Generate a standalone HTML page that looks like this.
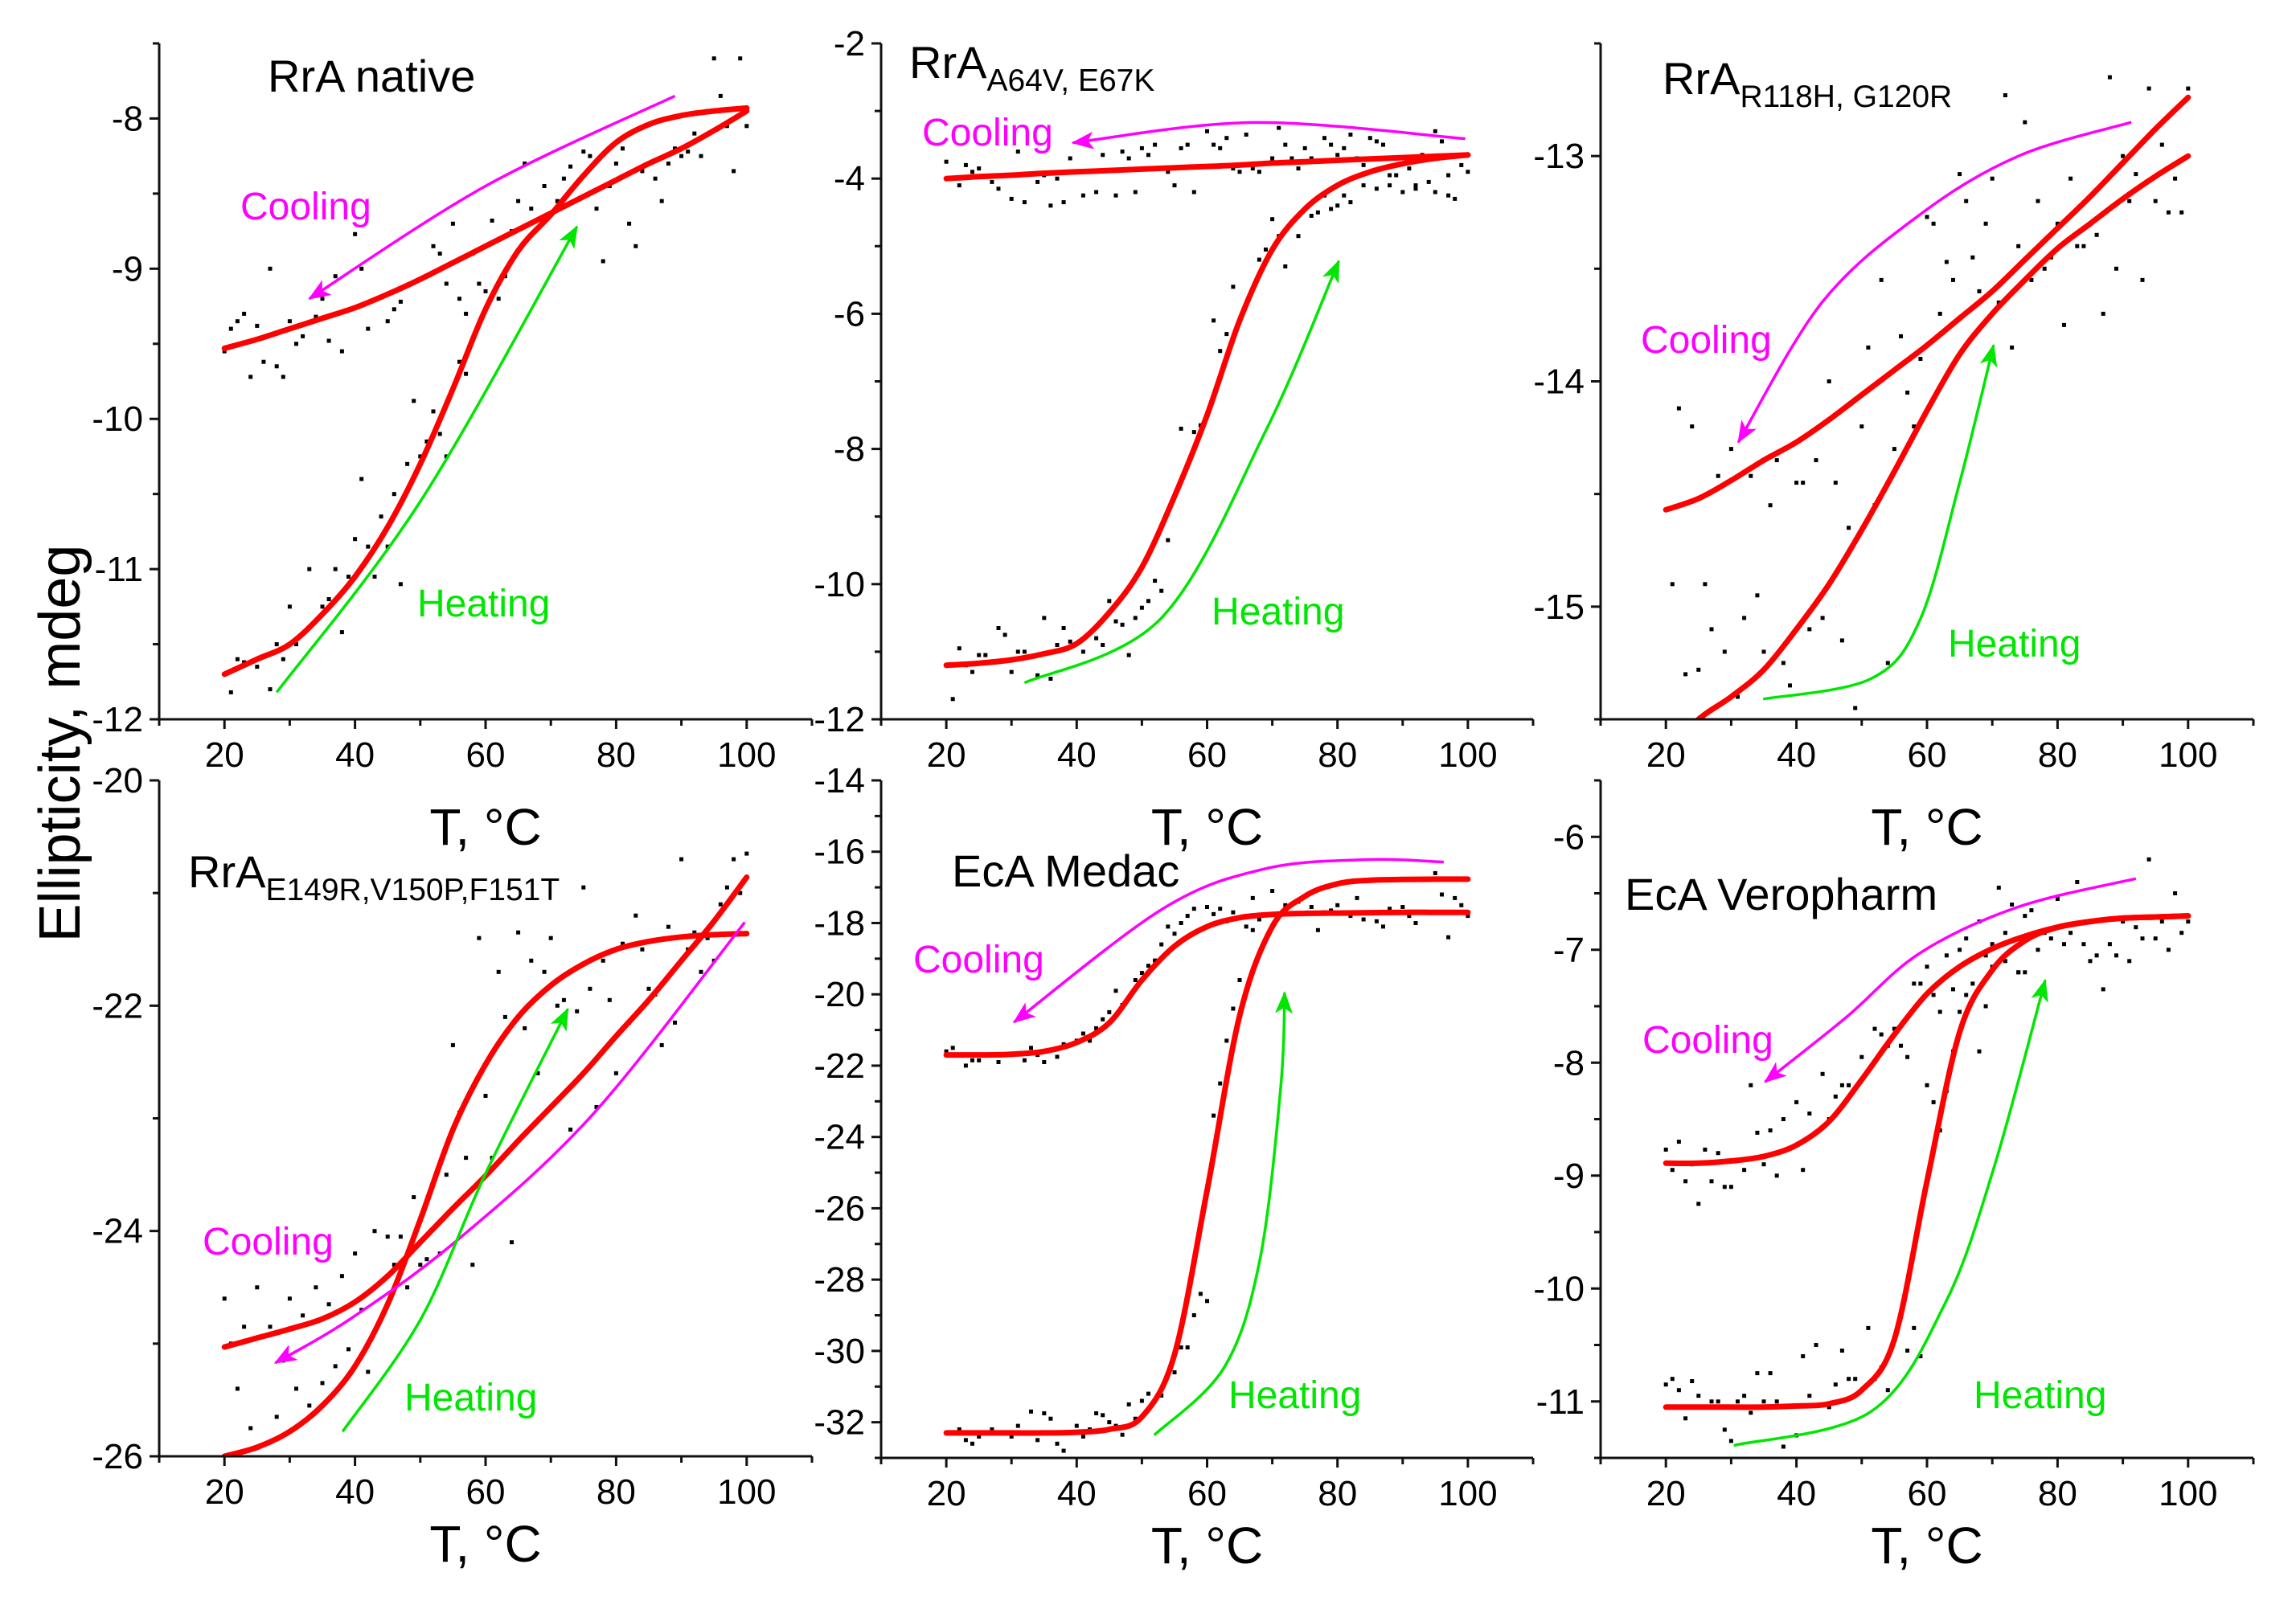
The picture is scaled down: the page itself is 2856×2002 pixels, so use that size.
<!DOCTYPE html>
<html><head><meta charset="utf-8"><style>
html,body{margin:0;padding:0;background:#fff;}
svg{display:block;}
text{font-family:"Liberation Sans",Arial,sans-serif;}
</style></head><body>
<svg id="chart" xmlns="http://www.w3.org/2000/svg" width="2856" height="2002" viewBox="0 0 2856 2002">
<defs>
<marker id="arrM" markerUnits="userSpaceOnUse" markerWidth="30" markerHeight="22" refX="26" refY="11" orient="auto"><path d="M0,0 L28,11 L0,22 L7,11 Z" fill="#ff00ff"/></marker>
<marker id="arrG" markerUnits="userSpaceOnUse" markerWidth="30" markerHeight="22" refX="26" refY="11" orient="auto"><path d="M0,0 L28,11 L0,22 L7,11 Z" fill="#00e600"/></marker>
</defs>
<text transform="translate(99,925) rotate(-90)" text-anchor="middle" font-size="72" fill="#000">Ellipticity, mdeg</text>
</svg>
<script>
// ---------- data ----------
const temps = [20,25,30,35,40,45,50,55,60,65,70,75,80,85,90,95,100];
const xTicks = [20,40,60,80,100];

const heatA = [-11.7,-11.6,-11.5,-11.3,-11.05,-10.72,-10.3,-9.8,-9.27,-8.88,-8.64,-8.38,-8.16,-8.04,-7.98,-7.95,-7.93];
const coolA = [-9.53,-9.47,-9.4,-9.33,-9.26,-9.17,-9.07,-8.96,-8.85,-8.74,-8.63,-8.52,-8.41,-8.3,-8.2,-8.08,-7.95];
const heatB = [-11.2,-11.17,-11.12,-11.03,-10.88,-10.42,-9.75,-8.7,-7.5,-6.1,-5.05,-4.45,-4.1,-3.9,-3.78,-3.7,-3.65];
const coolB = [-4.0,-3.97,-3.95,-3.92,-3.9,-3.88,-3.86,-3.84,-3.82,-3.8,-3.77,-3.75,-3.73,-3.71,-3.69,-3.67,-3.65];
const heatC = [-15.65,-15.5,-15.4,-15.28,-15.1,-14.9,-14.66,-14.4,-14.13,-13.88,-13.7,-13.55,-13.41,-13.3,-13.19,-13.09,-13.0];
const coolC = [-14.57,-14.52,-14.44,-14.35,-14.27,-14.17,-14.06,-13.95,-13.84,-13.72,-13.6,-13.46,-13.32,-13.18,-13.03,-12.88,-12.74];
const heatD = [-26.0,-25.92,-25.78,-25.55,-25.2,-24.65,-23.9,-23.1,-22.52,-22.1,-21.82,-21.63,-21.5,-21.43,-21.39,-21.37,-21.36];
const coolD = [-25.03,-24.95,-24.87,-24.78,-24.63,-24.4,-24.1,-23.8,-23.51,-23.2,-22.9,-22.6,-22.27,-21.95,-21.6,-21.25,-20.86];
const heatE = [-32.3,-32.3,-32.3,-32.3,-32.28,-32.2,-31.85,-30.1,-25.5,-20.6,-18.1,-17.25,-16.9,-16.8,-16.78,-16.77,-16.77];
const coolE = [-21.7,-21.7,-21.68,-21.6,-21.35,-20.8,-19.6,-18.65,-18.1,-17.85,-17.76,-17.73,-17.72,-17.71,-17.7,-17.7,-17.7];
const heatF = [-11.05,-11.05,-11.05,-11.05,-11.04,-11.02,-10.9,-10.45,-9.05,-7.73,-7.18,-6.92,-6.8,-6.75,-6.72,-6.71,-6.7];
const coolF = [-8.89,-8.89,-8.87,-8.83,-8.73,-8.52,-8.15,-7.75,-7.39,-7.15,-6.99,-6.88,-6.8,-6.75,-6.72,-6.71,-6.7];

const coolArrowA = [[89,-7.85],[60,-8.45],[33,-9.2]];
const heatArrowA = [[28,-11.82],[50,-10.55],[74,-8.72]];
const coolArrowB = [[99.6,-3.41],[67.3,-3.17],[39.4,-3.47]];
const heatArrowB = [[32,-11.46],[53,-10.5],[69,-7.73],[80.2,-5.22]];
const coolArrowC = [[91.3,-12.85],[74,-13.0],[58.9,-13.26],[43.9,-13.65],[31.1,-14.27]];
const heatArrowC = [[34.9,-15.41],[51.4,-15.32],[58.9,-15.06],[64.9,-14.46],[70.2,-13.84]];
const coolArrowD = [[99.7,-21.26],[76.5,-22.96],[55.9,-24.07],[39.3,-24.78],[27.8,-25.17]];
const heatArrowD = [[38.1,-25.78],[50.1,-24.78],[60,-23.49],[72.6,-22.03]];
const coolArrowE = [[96.3,-16.29],[84.7,-16.22],[68.9,-16.48],[53.2,-17.6],[30.4,-20.78]];
const heatArrowE = [[51.9,-32.36],[62.6,-30.47],[68.1,-27.44],[71.3,-22.6],[71.9,-19.95]];
const coolArrowF = [[92,-6.37],[74,-6.62],[58.9,-7.03],[47.6,-7.6],[35.2,-8.17]];
const heatArrowF = [[30.4,-11.39],[51.4,-11.09],[62.7,-10.14],[70.2,-8.94],[78.1,-7.27]];

const dotsA = [[20,-9.55],[21,-9.4],[22,-9.35],[23,-9.3],[24,-9.72],[25,-9.38],[26,-9.62],[27,-9.0],[28,-9.65],[29,-9.72],[30,-9.35],[31,-9.5],[32,-9.45],[34,-9.32],[35,-9.2],[36,-9.48],[37,-9.05],[38,-9.55],[40,-8.77],[41,-9.0],[42,-9.4],[45,-9.35],[46,-9.27],[47,-9.22],[52,-8.85],[53,-8.9],[54,-9.1],[55,-8.7],[56,-9.2],[57,-9.3],[58,-8.9],[59,-9.1],[61,-8.68],[62,-9.2],[63,-9.05],[64,-8.75],[65,-8.55],[66,-8.3],[67,-8.6],[69,-8.45],[71,-8.55],[72,-8.4],[73,-8.32],[75,-8.22],[76,-8.25],[77,-8.6],[78,-8.95],[79,-8.45],[80,-8.3],[81,-8.2],[82,-8.7],[83,-8.85],[84,-8.35],[85,-8.3],[86,-8.4],[87,-8.55],[88,-8.3],[89,-8.2],[90,-8.25],[91,-8.22],[92,-8.1],[93,-8.25],[94,-7.95],[95,-7.6],[96,-7.85],[97,-8.05],[98,-8.35],[99,-7.6],[100,-8.05],
[21,-11.82],[22,-11.6],[23,-11.62],[25,-11.65],[27,-11.8],[28,-11.5],[29,-11.6],[30,-11.25],[31,-11.5],[33,-11.0],[35,-11.25],[36,-11.2],[37,-11.0],[38,-11.42],[39,-11.05],[40,-10.8],[41,-10.4],[42,-10.85],[43,-11.05],[44,-10.65],[45,-10.85],[46,-10.5],[47,-11.1],[48,-10.3],[49,-9.88],[50,-10.25],[51,-10.15],[52,-9.95],[53,-10.1],[54,-10.25],[56,-9.62],[57,-9.7],[60,-9.15]];
const dotsB = [[20,-3.75],[22,-4.1],[23,-3.8],[24,-3.9],[25,-3.85],[27,-4.05],[28,-4.15],[30,-4.3],[31,-3.6],[32,-4.35],[34,-4.05],[35,-3.95],[36,-4.4],[37,-4.0],[38,-4.35],[39,-3.7],[41,-4.25],[42,-3.9],[43,-4.2],[44,-3.65],[46,-4.25],[47,-3.6],[48,-3.7],[49,-4.2],[50,-3.55],[51,-3.65],[52,-3.5],[54,-3.9],[55,-4.1],[56,-3.55],[57,-3.5],[58,-4.2],[60,-3.3],[61,-3.5],[62,-3.55],[63,-3.4],[64,-3.85],[65,-3.9],[66,-3.35],[67,-3.85],[68,-3.9],[70,-3.7],[71,-3.25],[72,-3.5],[73,-3.7],[74,-3.85],[75,-3.55],[76,-3.7],[77,-3.75],[78,-3.4],[79,-3.5],[80,-3.65],[81,-3.55],[82,-3.35],[83,-3.7],[84,-3.8],[85,-3.4],[86,-3.45],[87,-3.5],[88,-3.95],[89,-3.95],[90,-3.7],[91,-3.85],[92,-4.1],[93,-3.65],[94,-4.05],[95,-3.3],[96,-3.45],[97,-3.95],[98,-4.3],[99,-3.8],[100,-3.9],
[20,-11.2],[21,-11.7],[22,-10.95],[23,-11.2],[24,-11.3],[25,-11.05],[26,-11.05],[28,-10.65],[29,-10.75],[30,-11.3],[31,-11.0],[32,-11.0],[34,-11.35],[35,-10.5],[36,-11.4],[37,-10.9],[38,-10.65],[39,-10.85],[41,-11.0],[43,-10.8],[44,-10.9],[45,-10.25],[46,-10.55],[47,-10.6],[48,-11.05],[49,-10.5],[50,-10.35],[51,-10.25],[52,-9.95],[53,-10.1],[54,-9.35],[56,-7.7],[58,-7.75],[59,-7.65],[61,-6.1],[62,-6.55],[63,-6.3],[64,-5.6],[68,-5.2],[69,-5.05],[70,-4.6],[71,-4.85],[72,-5.3],[73,-4.65],[74,-4.85],[76,-4.55],[77,-4.5],[78,-4.25],[79,-4.45],[80,-4.4],[81,-4.25],[82,-4.35],[84,-4.1],[86,-4.15],[88,-4.1],[90,-4.2],[92,-4.15],[95,-4.2],[97,-4.25]];
const dotsC = [[20,-14.57],[21,-14.9],[22,-14.12],[23,-15.3],[24,-14.2],[25,-15.28],[26,-14.9],[27,-15.1],[28,-14.42],[29,-15.2],[30,-14.3],[31,-15.4],[32,-15.05],[33,-14.42],[34,-14.95],[35,-15.2],[36,-14.55],[37,-14.35],[38,-15.25],[39,-15.35],[40,-14.45],[41,-14.45],[42,-15.1],[43,-14.35],[44,-15.05],[45,-14.0],[46,-14.45],[47,-15.15],[48,-14.65],[49,-15.45],[50,-14.2],[51,-13.85],[52,-14.55],[53,-13.55],[54,-15.25],[55,-14.3],[56,-13.8],[57,-14.05],[58,-14.2],[59,-13.9],[60,-13.27],[61,-13.3],[62,-13.7],[63,-13.47],[64,-13.55],[65,-13.08],[66,-13.2],[67,-13.45],[68,-13.6],[69,-13.3],[70,-13.1],[71,-13.65],[72,-12.73],[73,-13.85],[74,-13.4],[75,-12.85],[76,-13.55],[77,-13.2],[78,-13.5],[79,-13.45],[80,-13.3],[81,-13.75],[82,-13.1],[83,-13.4],[84,-13.4],[86,-13.35],[87,-13.7],[88,-12.65],[89,-13.5],[90,-13.0],[91,-13.2],[92,-13.08],[93,-13.55],[94,-12.7],[95,-13.2],[96,-12.95],[97,-13.25],[98,-13.1],[99,-13.25],[100,-12.7]];
const dotsD = [[20,-24.6],[21,-25.0],[22,-25.4],[23,-24.85],[24,-25.75],[25,-24.5],[26,-25.9],[27,-24.85],[28,-25.65],[29,-25.15],[30,-24.6],[31,-25.4],[32,-24.75],[33,-25.55],[34,-24.5],[35,-25.35],[36,-24.65],[37,-25.2],[38,-24.4],[39,-25.05],[40,-24.2],[41,-24.7],[42,-25.25],[43,-24.0],[44,-24.45],[45,-24.05],[46,-24.3],[47,-24.05],[48,-24.5],[49,-23.7],[50,-24.3],[51,-24.25],[53,-24.2],[54,-23.5],[55,-22.35],[56,-22.95],[57,-23.35],[58,-24.3],[59,-21.4],[60,-22.8],[61,-23.35],[62,-21.7],[63,-22.1],[64,-24.1],[65,-21.35],[66,-22.2],[67,-21.6],[68,-22.6],[69,-21.7],[70,-21.4],[71,-22.0],[72,-21.95],[73,-23.1],[74,-22.05],[75,-20.95],[76,-21.85],[77,-22.9],[78,-21.6],[79,-21.95],[80,-22.6],[81,-21.45],[82,-22.15],[83,-21.2],[84,-21.5],[85,-21.85],[86,-21.9],[87,-22.35],[88,-21.3],[89,-22.15],[90,-20.7],[91,-21.5],[92,-21.35],[93,-21.7],[94,-21.4],[95,-21.6],[96,-21.1],[97,-20.95],[98,-20.7],[99,-21.0],[100,-20.65]];
const dotsE = [[20,-21.6],[21,-21.5],[22,-21.7],[23,-22.0],[24,-21.85],[25,-21.85],[27,-21.7],[28,-21.9],[30,-21.7],[31,-21.65],[32,-21.85],[33,-21.5],[34,-21.7],[35,-21.9],[36,-21.55],[37,-21.75],[38,-21.4],[40,-21.3],[41,-21.1],[42,-21.3],[43,-20.95],[44,-20.7],[45,-20.5],[46,-19.9],[47,-20.3],[48,-20.1],[49,-19.6],[50,-19.4],[51,-19.2],[52,-19.05],[53,-18.6],[54,-18.1],[55,-18.3],[56,-18.0],[57,-17.8],[58,-17.6],[60,-17.55],[61,-17.75],[62,-17.6],[63,-17.95],[64,-17.7],[66,-17.8],[67,-17.3],[68,-17.9],[70,-17.1],[72,-17.5],[74,-17.4],[76,-17.55],[77,-18.2],[78,-17.7],[79,-17.65],[80,-17.5],[82,-17.8],[83,-17.3],[84,-17.9],[86,-17.95],[87,-18.1],[88,-17.6],[90,-17.55],[91,-17.8],[92,-18.0],[94,-17.7],[95,-16.6],[96,-17.2],[97,-18.4],[98,-17.3],[99,-17.5],[100,-17.8],
[22,-32.2],[23,-32.5],[24,-32.6],[25,-32.4],[27,-32.2],[28,-32.3],[30,-32.4],[31,-32.1],[32,-32.3],[33,-31.7],[34,-32.5],[35,-31.75],[36,-31.9],[37,-32.6],[38,-32.8],[39,-32.3],[40,-32.1],[41,-32.4],[42,-32.2],[43,-31.75],[44,-31.8],[45,-32.0],[46,-32.1],[47,-32.35],[48,-31.5],[49,-31.9],[50,-31.4],[51,-31.2],[53,-31.25],[55,-30.6],[56,-29.9],[57,-29.9],[58,-29.0],[59,-28.4],[60,-28.6],[61,-23.4],[62,-22.5],[63,-21.3],[64,-20.4],[65,-19.6],[66,-18.1],[67,-18.2]];
const dotsF = [[20,-8.77],[21,-8.95],[22,-8.7],[23,-9.05],[24,-8.9],[25,-9.25],[26,-8.77],[27,-9.05],[28,-8.8],[29,-9.1],[30,-9.1],[32,-8.95],[33,-8.2],[34,-8.62],[35,-8.9],[36,-8.6],[37,-9.0],[38,-8.5],[40,-8.35],[41,-8.95],[42,-8.45],[44,-8.1],[45,-8.5],[46,-8.3],[47,-8.2],[48,-8.2],[50,-7.95],[52,-7.7],[53,-7.75],[54,-7.85],[55,-7.7],[56,-7.85],[57,-7.95],[58,-7.3],[59,-7.3],[60,-7.15],[61,-7.4],[62,-7.55],[63,-7.05],[64,-7.35],[65,-7.0],[66,-6.9],[67,-7.45],[68,-6.75],[69,-7.05],[70,-6.95],[71,-6.45],[72,-6.85],[73,-6.6],[74,-7.2],[75,-6.7],[76,-6.65],[77,-7.0],[78,-6.85],[79,-6.9],[80,-6.55],[81,-6.95],[82,-6.85],[83,-6.4],[84,-6.95],[85,-7.1],[86,-7.05],[87,-7.35],[88,-6.95],[89,-7.05],[90,-6.75],[91,-7.1],[92,-6.8],[93,-6.9],[94,-6.2],[95,-6.9],[96,-6.75],[97,-7.0],[98,-6.5],[99,-6.85],[100,-6.75],
[20,-10.85],[21,-10.8],[22,-10.9],[23,-11.15],[24,-10.82],[25,-10.95],[27,-11.0],[28,-11.0],[29,-11.25],[30,-11.35],[31,-11.0],[32,-10.95],[33,-11.1],[34,-10.75],[35,-11.0],[36,-10.75],[37,-11.0],[38,-11.4],[40,-11.3],[41,-10.6],[42,-10.95],[43,-10.5],[45,-11.05],[46,-10.85],[47,-10.55],[48,-10.8],[49,-10.8],[51,-10.35],[52,-10.8],[53,-10.7],[54,-10.9],[56,-10.25],[57,-10.55],[58,-10.35],[59,-10.6],[60,-8.2],[61,-8.35],[62,-8.6],[63,-8.25],[64,-7.9],[65,-7.55],[66,-7.4],[67,-7.3],[68,-7.9],[69,-7.5],[70,-7.15],[72,-7.1],[74,-7.2],[75,-7.2]];

// ---------- layout ----------
const panels = [
 {id:'a', px0:198, px1:1010, py0:54, py1:895, ymin:-12, ymax:-7.5, major:1, minor:0.5, heat:heatA, cool:coolA, ca:coolArrowA, ha:heatArrowA, dots:dotsA,
  title:'RrA native', sub:'', tx:333, ty:114, cx:299, cy:273, hx:519, hy:767},
 {id:'b', px0:1096, px1:1907, py0:54, py1:895, ymin:-12, ymax:-2, major:2, minor:1, heat:heatB, cool:coolB, ca:coolArrowB, ha:heatArrowB, dots:dotsB,
  title:'RrA', sub:'A64V, E67K', tx:1131, ty:97, cx:1147, cy:181, hx:1507, hy:777},
 {id:'c', px0:1991, px1:2803, py0:54, py1:895, ymin:-15.5, ymax:-12.5, major:1, minor:0.5, heat:heatC, cool:coolC, ca:coolArrowC, ha:heatArrowC, dots:dotsC,
  title:'RrA', sub:'R118H, G120R', tx:2068, ty:117, cx:2041, cy:439, hx:2423, hy:817},
 {id:'d', px0:198, px1:1010, py0:971, py1:1812, ymin:-26, ymax:-20, major:2, minor:1, heat:heatD, cool:coolD, ca:coolArrowD, ha:heatArrowD, dots:dotsD,
  title:'RrA', sub:'E149R,V150P,F151T', tx:234, ty:1104, cx:252, cy:1561, hx:503, hy:1755},
 {id:'e', px0:1096, px1:1907, py0:971, py1:1814, ymin:-33, ymax:-14, major:2, minor:1, heat:heatE, cool:coolE, ca:coolArrowE, ha:heatArrowE, dots:dotsE,
  title:'EcA Medac', sub:'', tx:1184, ty:1103, cx:1136, cy:1210, hx:1528, hy:1752},
 {id:'f', px0:1991, px1:2803, py0:971, py1:1814, ymin:-11.5, ymax:-5.5, major:1, minor:0.5, heat:heatF, cool:coolF, ca:coolArrowF, ha:heatArrowF, dots:dotsF,
  title:'EcA Veropharm', sub:'', tx:2021, ty:1132, cx:2043, cy:1310, hx:2455, hy:1752}
];

const NS='http://www.w3.org/2000/svg';
const svg=document.getElementById('chart');
function mk(tag,attrs,parent){const e=document.createElementNS(NS,tag);for(const k in attrs)e.setAttribute(k,attrs[k]);(parent||svg).appendChild(e);return e;}
function smooth(pts){
  if(pts.length<2)return '';
  let d='M'+pts[0][0].toFixed(1)+','+pts[0][1].toFixed(1);
  for(let i=0;i<pts.length-1;i++){
    const p0=pts[i-1]||pts[i],p1=pts[i],p2=pts[i+1],p3=pts[i+2]||p2;
    const c1x=p1[0]+(p2[0]-p0[0])/6,c1y=p1[1]+(p2[1]-p0[1])/6;
    const c2x=p2[0]-(p3[0]-p1[0])/6,c2y=p2[1]-(p3[1]-p1[1])/6;
    d+=' C'+c1x.toFixed(1)+','+c1y.toFixed(1)+' '+c2x.toFixed(1)+','+c2y.toFixed(1)+' '+p2[0].toFixed(1)+','+p2[1].toFixed(1);
  }
  return d;
}

panels.forEach(p=>{
  const X=t=>p.px0+(t-10)/(110-10)*(p.px1-p.px0);
  const Y=v=>p.py1-(v-p.ymin)/(p.ymax-p.ymin)*(p.py1-p.py0);
  const g=mk('g',{});
  
  
  const clip=mk('clipPath',{id:'clip-'+p.id},g);
  mk('rect',{x:p.px0,y:p.py0-30,width:p.px1-p.px0+10,height:p.py1-p.py0+30},clip);

  const dg=mk('g',{'clip-path':'url(#clip-'+p.id+')'},g);
  
  
  p.dots.forEach(d=>{
    const r=mk('rect',{x:(X(d[0])-2.5).toFixed(1),y:(Y(d[1])-2.5).toFixed(1),width:5,height:5,fill:'#000'},dg);
    
    
  });

  const cg=mk('g',{'clip-path':'url(#clip-'+p.id+')'},g);
  const hc=mk('path',{d:smooth(temps.map((t,i)=>[X(t),Y(p.heat[i])])),fill:'none',stroke:'#ff0000','stroke-width':7,'stroke-linecap':'round'},cg);
  
  
  const cc=mk('path',{d:smooth(temps.map((t,i)=>[X(t),Y(p.cool[i])])),fill:'none',stroke:'#ff0000','stroke-width':7,'stroke-linecap':'round'},cg);
  
  

  const ma=mk('path',{d:smooth(p.ca.map(a=>[X(a[0]),Y(a[1])])),fill:'none',stroke:'#ff00ff','stroke-width':3.5,'marker-end':'url(#arrM)'},g);
  
  
  const ga=mk('path',{d:smooth(p.ha.map(a=>[X(a[0]),Y(a[1])])),fill:'none',stroke:'#00e600','stroke-width':3.5,'marker-end':'url(#arrG)'},g);
  
  

  const ax=mk('path',{d:`M${p.px0},${p.py0} L${p.px0},${p.py1} L${p.px1},${p.py1}`,fill:'none',stroke:'#111','stroke-width':3},g);
  
  
  for(let t=10;t<=110.001;t+=10){
    const isMaj=xTicks.indexOf(Math.round(t))>=0;
    mk('line',{x1:X(t),x2:X(t),y1:p.py1,y2:p.py1+(isMaj?12:8),stroke:'#111','stroke-width':3},g);
  }
  xTicks.forEach(t=>{
    const tl=mk('text',{x:X(t),y:p.py1+59,'text-anchor':'middle','font-size':44,fill:'#000'},g);
    tl.textContent=t;
    
    
  });
  const nMin=Math.round((p.ymax-p.ymin)/p.minor);
  for(let i=0;i<=nMin;i++){
    const v=p.ymin+i*p.minor;
    const isMaj=Math.abs(v/p.major-Math.round(v/p.major))<1e-6;
    mk('line',{x1:p.px0-(isMaj?12:8),x2:p.px0,y1:Y(v),y2:Y(v),stroke:'#111','stroke-width':3},g);
    if(isMaj){
      const yl=mk('text',{x:p.px0-20,y:Y(v)+15,'text-anchor':'end','font-size':44,fill:'#000'},g);
      yl.textContent=String(Math.round(v));
      
      
    }
  }
  const xt=mk('text',{x:X(60),y:p.py1+(p.py0<100?156:131),'text-anchor':'middle','font-size':64,fill:'#000'},g);
  xt.textContent='T, °C';
  
  
  const tt=mk('text',{x:p.tx,y:p.ty,'font-size':56,fill:'#000'},g);
  
  
  tt.appendChild(document.createTextNode(p.title));
  if(p.sub){const s=mk('tspan',{'font-size':39,dy:16},tt);s.textContent=p.sub;}
  const cl=mk('text',{x:p.cx,y:p.cy,'font-size':48,fill:'#ff00ff'},g);
  cl.textContent='Cooling';
  
  
  const hl=mk('text',{x:p.hx,y:p.hy,'font-size':48,fill:'#00e600'},g);
  hl.textContent='Heating';
  
  
});
</script>
</body></html>
